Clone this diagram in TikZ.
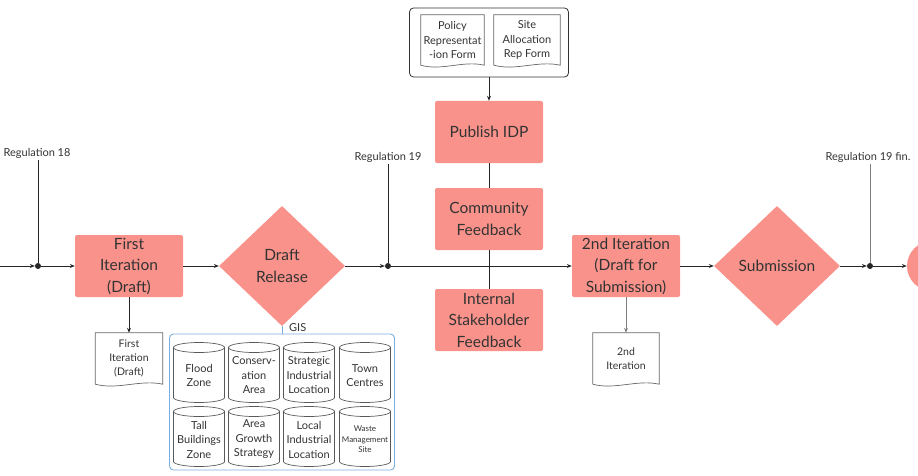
\documentclass[tikz,border=0pt]{standalone}
\usepackage{fontspec}
\setmainfont{Lato}
\usepackage{tikz}
\usetikzlibrary{arrows.meta,calc,positioning,shapes.geometric}
\definecolor{salmon}{RGB}{249,146,138}
\definecolor{inkgrey}{RGB}{51,51,51}
\definecolor{gisblue}{RGB}{122,174,221}

\tikzset{
  stepbox/.style={rectangle, rounded corners=2pt, fill=salmon, minimum width=108pt, minimum height=62pt,
    inner sep=1pt, align=center, text=inkgrey, font=\fontsize{15.5}{21.5}\selectfont},
  decision/.style={diamond, fill=salmon, minimum width=126pt, minimum height=120pt, inner sep=0pt,
    align=center, text=inkgrey, font=\fontsize{15.5}{22}\selectfont},
  docnode/.style={rectangle, inner sep=0pt, align=center, text=inkgrey, font=\fontsize{11}{14.5}\selectfont},
  reglabel/.style={inner sep=2pt, text=inkgrey, font=\fontsize{11}{13}\selectfont},
  cyltext/.style={inner sep=0pt, align=center, text=inkgrey, font=\fontsize{11}{14.5}\selectfont},
  wastetext/.style={inner sep=0pt, align=center, text=inkgrey, font=\fontsize{8}{10.5}\selectfont},
  junction/.style={circle, fill=black!85, inner sep=0pt, minimum size=6pt},
  flow/.style={draw=black!85, line width=0.9pt, -{Stealth[length=5pt,width=4pt]}},
  link/.style={draw=black!85, line width=0.9pt},
  docline/.style={draw=black!60, line width=0.7pt},
  cylline/.style={draw=black!65, line width=0.7pt},
}

\begin{document}
\begin{tikzpicture}[x=1pt,y=1pt]
\clip (0,0) rectangle (918,475);

% main line
\coordinate (start) at (0,209);
\node[junction] (dot18) at (38,209) {};
\node[stepbox] (firstit) at (129,209) {First\\Iteration\\(Draft)};
\node[decision] (draftrel) at (282,209) {Draft\\Release};
\node[junction] (dot19) at (388,209) {};
\node[stepbox] (secondit) at (626,209) {2nd Iteration\\(Draft for\\Submission)};
\node[decision] (submit) at (777,209) {Submission};
\node[junction] (dotfin) at (870,209) {};
\node[circle, fill=salmon, minimum size=50pt] (adopt) at (932,209) {};

\draw[flow] (start) -- (dot18);
\draw[flow] (dot18) -- (firstit);
\draw[flow] (firstit) -- (draftrel);
\draw[flow] (draftrel) -- (dot19);
\draw[flow] (dot19) -- (secondit);
\draw[flow] (secondit) -- (submit);
\draw[flow] (submit) -- (dotfin);
\draw[flow] (dotfin) -- (adopt);

% regulations
\node[reglabel] (reg18) at (37,322) {Regulation 18};
\node[reglabel] (reg19) at (388,318) {Regulation 19};
\node[reglabel] (reg19fin) at (868,318) {Regulation 19 fin.};
\draw[link] (reg18.south -| dot18) -- (dot18);
\draw[link] (reg19.south -| dot19) -- (dot19);
\draw[link, draw=black!50] (reg19fin.south -| dotfin) -- (dotfin);

% consultation
\node[draw=black!80, line width=0.8pt, rounded corners=4pt, minimum width=159pt, minimum height=69pt] (forms) at (489,432.5) {};
\node[docnode, minimum width=63pt, minimum height=50pt] (polform) at (452.5,435) {Policy\\Representat\\-ion Form};
\node[docnode, minimum width=66pt, minimum height=50pt] (siteform) at (527,435) {Site\\Allocation\\Rep Form};
\node[stepbox] (publish) at (489,343) {Publish IDP};
\node[stepbox] (community) at (489,256) {Community\\Feedback};
\node[stepbox] (internal) at (489,155) {Internal\\Stakeholder\\Feedback};
\draw[flow] (forms) -- (publish);
\draw[link] (publish) -- (community);
\draw[link] (community) -- (internal);

% documents
\node[docnode, minimum width=67pt, minimum height=51pt, font=\fontsize{10.5}{14}\selectfont] (firstdoc) at (129,116.5) {First\\Iteration\\(Draft)};
\node[docnode, minimum width=66pt, minimum height=51pt, font=\fontsize{10.5}{14}\selectfont] (seconddoc) at (626,116.5) {2nd\\Iteration};
\draw[flow] (firstit) -- (firstdoc);
\draw[flow, draw=black!50] (secondit) -- (seconddoc);
\foreach \d in {polform,siteform,firstdoc,seconddoc}
  \draw[docline] (\d.south west) -- (\d.north west) -- (\d.north east) -- (\d.south east)
    .. controls ($(\d.south east)!0.33!(\d.south west)+(0,5)$) and ($(\d.south east)!0.67!(\d.south west)+(0,-6)$) .. (\d.south west);

% GIS layers
\node[draw=gisblue, line width=0.9pt, rounded corners=4pt, minimum width=225pt, minimum height=136pt] (gis) at (282,73) {};
\draw[draw=gisblue, line width=0.9pt] (draftrel.south) -- (gis.north);
\node[reglabel, right] (gislabel) at (287,147) {GIS};
\foreach \cx/\cy/\nm/\st/\txt in {
    199/102.5/flood/cyltext/{Flood\\Zone},
    254/102.5/conserv/cyltext/{Conserv-\\ation\\Area},
    309/102.5/strategic/cyltext/{Strategic\\Industrial\\Location},
    365/102.5/town/cyltext/{Town\\Centres},
    199/38.5/tall/cyltext/{Tall\\Buildings\\Zone},
    254/38.5/growth/cyltext/{Area\\Growth\\Strategy},
    309/38.5/localind/cyltext/{Local\\Industrial\\Location},
    365/38.5/waste/wastetext/{Waste\\Management\\Site}} {
  \draw[cylline] (\cx-25.5,\cy+25) -- (\cx-25.5,\cy-25) arc (180:360:25.5 and 5)
    -- (\cx+25.5,\cy+25) arc (0:360:25.5 and 5);
  \node[\st] (\nm) at (\cx,\cy-3) {\txt};
}
\end{tikzpicture}
\end{document}
